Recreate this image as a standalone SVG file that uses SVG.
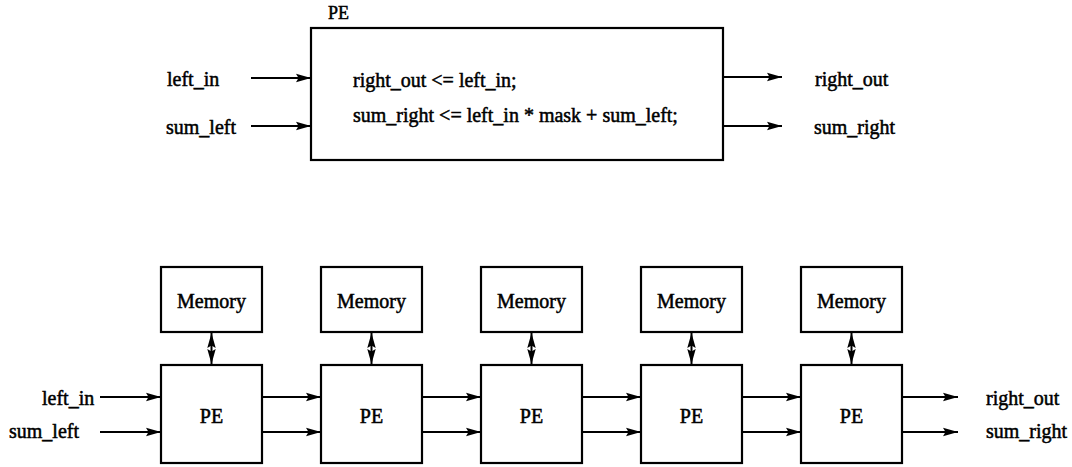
<svg xmlns="http://www.w3.org/2000/svg" width="1072" height="467" viewBox="0 0 1072 467">
  <style>
    .box { fill: #fff; stroke: #000; stroke-width: 2.2; }
    .wire { fill: none; stroke: #000; stroke-width: 2; }
    .lbl { font-family: "Liberation Serif", "Times New Roman", serif; font-size: 20px; fill: #000; stroke: #000; stroke-width: 0.5; }
    .mid { text-anchor: middle; }
  </style>
  <defs>
    <marker id="arr" markerUnits="userSpaceOnUse" markerWidth="16" markerHeight="10" refX="15" refY="5" orient="auto-start-reverse">
      <path d="M0,0.8 L15,5 L0,9.2 L2.5,5 z" fill="#000"/>
    </marker>
  </defs>

  <rect width="1072" height="467" fill="#fff"/>

  <!-- single processing element with its behaviour -->
  <g id="pe-detail">
    <text class="lbl" x="328" y="19" style="font-size:18px">PE</text>
    <rect class="box" x="311" y="28" width="412" height="132"/>
    <text class="lbl" x="353" y="87">right_out &lt;= left_in;</text>
    <text class="lbl" x="353" y="122">sum_right &lt;= left_in * mask + sum_left;</text>
  </g>
  <g id="pe-detail-ports">
    <text class="lbl" x="167" y="86">left_in</text>
    <text class="lbl" x="166" y="134">sum_left</text>
    <text class="lbl" x="815" y="86">right_out</text>
    <text class="lbl" x="814" y="134">sum_right</text>
  </g>

  <!-- array of processing elements, each with local memory -->
  <g id="mem1"><rect class="box" x="161" y="267" width="101" height="65"/><text class="lbl mid" x="211.5" y="308">Memory</text></g>
  <g id="mem2"><rect class="box" x="321" y="267" width="101" height="65"/><text class="lbl mid" x="371.5" y="308">Memory</text></g>
  <g id="mem3"><rect class="box" x="481" y="267" width="101" height="65"/><text class="lbl mid" x="531.5" y="308">Memory</text></g>
  <g id="mem4"><rect class="box" x="641" y="267" width="101" height="65"/><text class="lbl mid" x="691.5" y="308">Memory</text></g>
  <g id="mem5"><rect class="box" x="801" y="267" width="101" height="65"/><text class="lbl mid" x="851.5" y="308">Memory</text></g>

  <g id="pe1"><rect class="box" x="161" y="365" width="101" height="98"/><text class="lbl mid" x="211.5" y="423">PE</text></g>
  <g id="pe2"><rect class="box" x="321" y="365" width="101" height="98"/><text class="lbl mid" x="371.5" y="423">PE</text></g>
  <g id="pe3"><rect class="box" x="481" y="365" width="101" height="98"/><text class="lbl mid" x="531.5" y="423">PE</text></g>
  <g id="pe4"><rect class="box" x="641" y="365" width="101" height="98"/><text class="lbl mid" x="691.5" y="423">PE</text></g>
  <g id="pe5"><rect class="box" x="801" y="365" width="101" height="98"/><text class="lbl mid" x="851.5" y="423">PE</text></g>

  <g id="array-ports">
    <text class="lbl" x="42" y="405">left_in</text>
    <text class="lbl" x="9" y="438">sum_left</text>
    <text class="lbl" x="986" y="405">right_out</text>
    <text class="lbl" x="986" y="438">sum_right</text>
  </g>

  <g id="connectors">
    <!-- detail view -->
    <line class="wire" x1="251" y1="78" x2="311" y2="78" marker-end="url(#arr)"/>
    <line class="wire" x1="251" y1="126" x2="311" y2="126" marker-end="url(#arr)"/>
    <line class="wire" x1="723" y1="77" x2="782" y2="77" marker-end="url(#arr)"/>
    <line class="wire" x1="723" y1="126" x2="782" y2="126" marker-end="url(#arr)"/>

    <!-- memory <-> PE -->
    <line class="wire" x1="211.5" y1="333" x2="211.5" y2="364" marker-start="url(#arr)" marker-end="url(#arr)"/>
    <line class="wire" x1="371.5" y1="333" x2="371.5" y2="364" marker-start="url(#arr)" marker-end="url(#arr)"/>
    <line class="wire" x1="531.5" y1="333" x2="531.5" y2="364" marker-start="url(#arr)" marker-end="url(#arr)"/>
    <line class="wire" x1="691.5" y1="333" x2="691.5" y2="364" marker-start="url(#arr)" marker-end="url(#arr)"/>
    <line class="wire" x1="851.5" y1="333" x2="851.5" y2="364" marker-start="url(#arr)" marker-end="url(#arr)"/>

    <!-- array inputs -->
    <line class="wire" x1="100" y1="397" x2="161" y2="397" marker-end="url(#arr)"/>
    <line class="wire" x1="100" y1="432" x2="161" y2="432" marker-end="url(#arr)"/>

    <!-- PE to PE -->
    <line class="wire" x1="262" y1="397" x2="321" y2="397" marker-end="url(#arr)"/>
    <line class="wire" x1="262" y1="432" x2="321" y2="432" marker-end="url(#arr)"/>
    <line class="wire" x1="422" y1="397" x2="481" y2="397" marker-end="url(#arr)"/>
    <line class="wire" x1="422" y1="432" x2="481" y2="432" marker-end="url(#arr)"/>
    <line class="wire" x1="582" y1="397" x2="641" y2="397" marker-end="url(#arr)"/>
    <line class="wire" x1="582" y1="432" x2="641" y2="432" marker-end="url(#arr)"/>
    <line class="wire" x1="742" y1="397" x2="801" y2="397" marker-end="url(#arr)"/>
    <line class="wire" x1="742" y1="432" x2="801" y2="432" marker-end="url(#arr)"/>

    <!-- array outputs -->
    <line class="wire" x1="902" y1="397" x2="958" y2="397" marker-end="url(#arr)"/>
    <line class="wire" x1="902" y1="432" x2="958" y2="432" marker-end="url(#arr)"/>
  </g>
</svg>
